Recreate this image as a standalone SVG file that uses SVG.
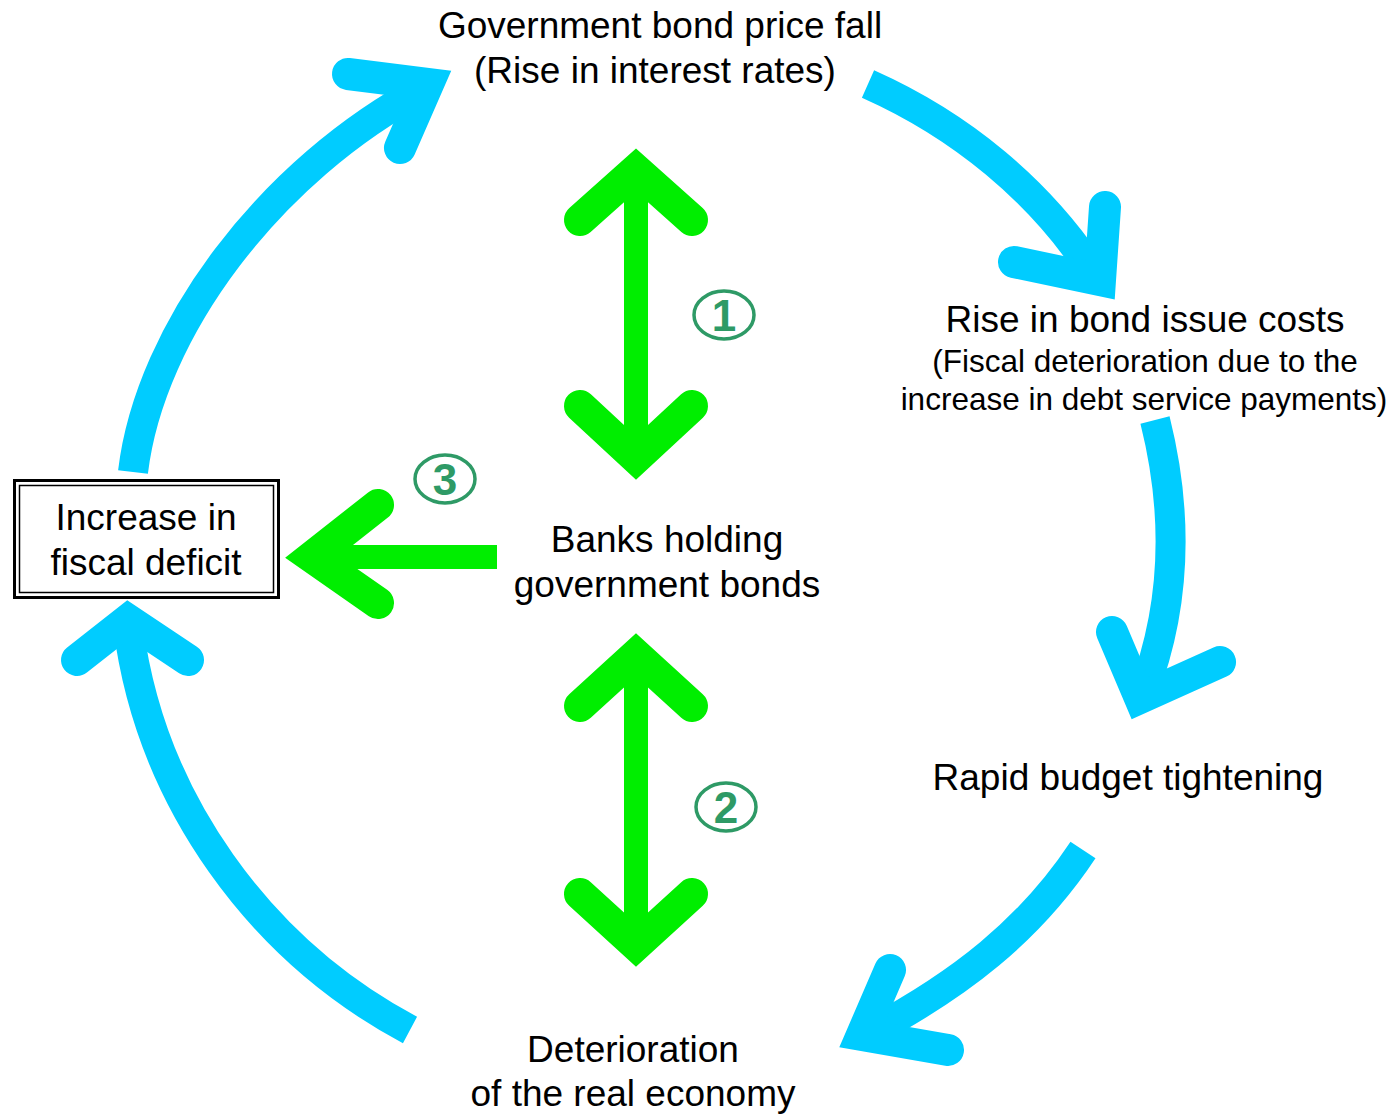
<svg xmlns="http://www.w3.org/2000/svg" width="1395" height="1114" viewBox="0 0 1395 1114">
<style>
.t{font-family:"Liberation Sans",Arial,sans-serif;font-size:37px;fill:#000;text-anchor:middle}
.s{font-size:31.5px}
.bs{fill:none;stroke:#00ccff;stroke-width:30}
.bh{fill:none;stroke:#00ccff;stroke-width:32;stroke-linecap:round;stroke-linejoin:miter;stroke-miterlimit:10}
.gs{fill:none;stroke:#00ee00;stroke-width:24}
.gh{fill:none;stroke:#00ee00;stroke-width:32;stroke-linecap:round;stroke-linejoin:miter;stroke-miterlimit:10}
.ce{fill:#fff;stroke:#2e9a66;stroke-width:3.5}
.cn{font-family:"Liberation Sans",Arial,sans-serif;font-size:44px;font-weight:bold;fill:#2e9a66;text-anchor:middle}
</style>
<rect width="1395" height="1114" fill="#fff"/>
<g id="connectors">
  <g id="c-left-up">
    <path class="bs" d="M133,472 C150,330 270,170 425,88"/>
    <polyline class="bh" points="348,74 428,84 400,148"/>
  </g>
  <g id="c-right-up">
    <path class="bs" d="M868,84 C960,125 1040,190 1095,275"/>
    <polyline class="bh" points="1105,207 1100,280 1014,262"/>
  </g>
  <g id="c-right-mid">
    <path class="bs" d="M1155,420 C1180,520 1175,610 1142,695"/>
    <polyline class="bh" points="1112,632 1140,698 1220,662"/>
  </g>
  <g id="c-low-right">
    <path class="bs" d="M1083,850 C1030,930 960,985 865,1035"/>
    <polyline class="bh" points="890,970 862,1035 948,1050"/>
  </g>
  <g id="c-low-left">
    <path class="bs" d="M410,1030 C260,950 150,800 128,625"/>
    <polyline class="bh" points="77,660 128,620 188,660"/>
  </g>
  <g id="g1">
    <line class="gs" x1="636" y1="170" x2="636" y2="458"/>
    <polyline class="gh" points="580,220 636,170 692,220"/>
    <polyline class="gh" points="580,406 636,458 692,406"/>
  </g>
  <g id="g2">
    <line class="gs" x1="636" y1="655" x2="636" y2="945"/>
    <polyline class="gh" points="580,706 636,655 692,706"/>
    <polyline class="gh" points="580,894 636,945 692,894"/>
  </g>
  <g id="g3">
    <line class="gs" x1="497" y1="557" x2="312" y2="557"/>
    <polyline class="gh" points="378,505 312,557 378,603"/>
  </g>
</g>
<g id="n1"><ellipse class="ce" cx="724" cy="315" rx="30" ry="24"/><text class="cn" x="724" y="331">1</text></g>
<g id="n2"><ellipse class="ce" cx="726" cy="807" rx="30" ry="24"/><text class="cn" x="726" y="823">2</text></g>
<g id="n3"><ellipse class="ce" cx="445" cy="479" rx="30" ry="24"/><text class="cn" x="445" y="495">3</text></g>
<g id="top"><text class="t" x="660" y="38">Government bond price fall</text><text class="t" x="655" y="83">(Rise in interest rates)</text></g>
<g id="right1"><text class="t" x="1145" y="332">Rise in bond issue costs</text><text class="t s" x="1145" y="372">(Fiscal deterioration due to the</text><text class="t s" x="1144" y="410">increase in debt service payments)</text></g>
<g id="right2"><text class="t" x="1128" y="790">Rapid budget tightening</text></g>
<g id="bottom"><text class="t" x="633" y="1062">Deterioration</text><text class="t" x="633" y="1106">of the real economy</text></g>
<g id="banks"><text class="t" x="667" y="552">Banks holding</text><text class="t" x="667" y="597">government bonds</text></g>
<g id="box">
  <rect x="14.5" y="480.5" width="264" height="117" fill="#fff" stroke="#000" stroke-width="3"/>
  <rect x="19.5" y="485.5" width="254" height="107" fill="none" stroke="#000" stroke-width="1.5"/>
  <text class="t" x="146" y="530">Increase in</text><text class="t" x="146" y="575">fiscal deficit</text>
</g>
</svg>
